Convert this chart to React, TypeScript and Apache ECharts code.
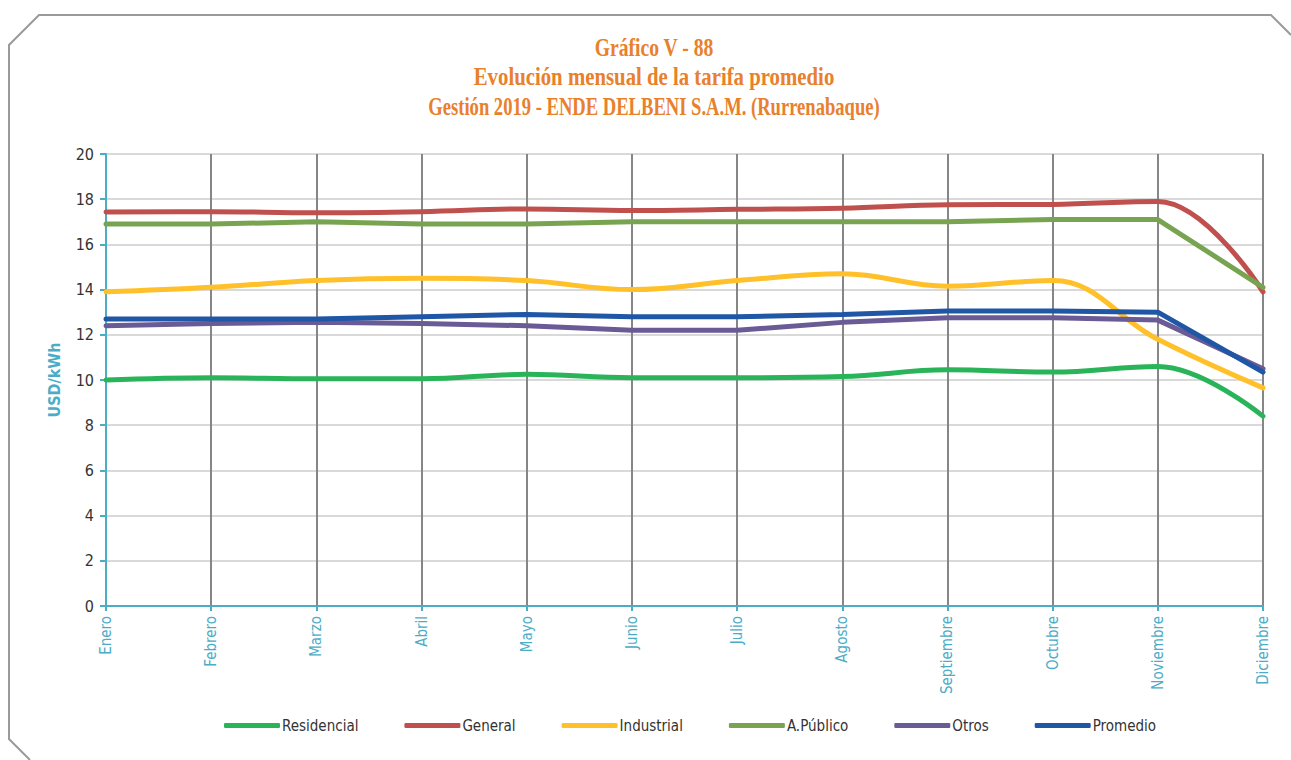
import React, { useEffect, useRef } from "react";
import * as echarts from "echarts";

const months = ["Enero", "Febrero", "Marzo", "Abril", "Mayo", "Junio", "Julio", "Agosto", "Septiembre", "Octubre", "Noviembre", "Diciembre"];
const yTicks = [0, 2, 4, 6, 8, 10, 12, 14, 16, 18, 20];
const residencial = [10.0, 10.1, 10.05, 10.05, 10.25, 10.1, 10.1, 10.15, 10.45, 10.35, 10.6, 8.4];
const general = [17.43, 17.45, 17.4, 17.45, 17.57, 17.5, 17.55, 17.6, 17.75, 17.77, 17.9, 13.9];
const industrial = [13.9, 14.1, 14.4, 14.5, 14.4, 14.0, 14.4, 14.7, 14.15, 14.4, 11.8, 9.65];
const aPublico = [16.9, 16.9, 17.0, 16.9, 16.9, 17.0, 17.0, 17.0, 17.0, 17.1, 17.1, 14.1];
const otros = [12.4, 12.5, 12.55, 12.5, 12.4, 12.2, 12.2, 12.55, 12.75, 12.75, 12.65, 10.5];
const promedio = [12.7, 12.7, 12.7, 12.8, 12.9, 12.8, 12.8, 12.9, 13.05, 13.05, 13.0, 10.35];

const titleLines = ["Gráfico V - 88", "Evolución mensual de la tarifa promedio", "Gestión 2019 - ENDE DELBENI S.A.M. (Rurrenabaque)"];
const titleScales = [0.755, 0.8, 0.715];

const NARROW = '"Liberation Sans Narrow", "DejaVu Sans Condensed", sans-serif';
const CYAN = "#4bacc6";

export default function App() {
  const ref = useRef<HTMLDivElement>(null);
  useEffect(() => {
    if (!ref.current) return;
    const chart = echarts.init(ref.current, undefined, { renderer: "svg" });
    const mk = (name: string, data: number[], color: string, smooth: boolean | number) => ({
      name,
      type: "line",
      data,
      smooth,
      symbol: "none",
      lineStyle: { color, width: 5, cap: "round" },
      itemStyle: { color },
    });
    chart.setOption({
      animation: false,
      backgroundColor: "#ffffff",
      graphic: [
        {
          type: "polyline",
          shape: { points: [[30, 760], [9, 739], [9, 45], [39, 15], [1271, 15], [1291, 35]] },
          style: { stroke: "#9a9a9a", lineWidth: 2, fill: "none" },
          silent: true,
        },
        ...titleLines.map((t, i) => ({
          type: "text",
          x: 654,
          y: 47 + i * 29.5,
          scaleX: titleScales[i],
          style: {
            text: t,
            fill: "#e8802c",
            font: 'bold 26px "Liberation Serif", serif',
            textAlign: "center",
            textVerticalAlign: "middle",
          },
        })),
      ],
      legend: {
        bottom: 22,
        left: 219,
        itemWidth: 56,
        itemHeight: 5,
        itemGap: 46,
        icon: "roundRect",
        textStyle: { fontFamily: NARROW, fontSize: 15, color: "#333", padding: [0, 0, 0, -3] },
        data: ["Residencial", "General", "Industrial", "A.Público", "Otros", "Promedio"],
      },
      grid: { left: 106, right: 28, top: 154, bottom: 154, containLabel: false },
      xAxis: {
        type: "category",
        data: months,
        boundaryGap: false,
        axisLine: { lineStyle: { color: CYAN, width: 2 } },
        axisTick: { show: true, length: 5, lineStyle: { color: CYAN, width: 2 } },
        axisLabel: { rotate: 90, margin: 10, color: CYAN, fontFamily: NARROW, fontSize: 15 },
        splitLine: { show: true, lineStyle: { color: "#868686", width: 2 } },
      },
      yAxis: {
        type: "value",
        min: yTicks[0],
        max: yTicks[yTicks.length - 1],
        interval: 2,
        name: "USD/kWh",
        nameLocation: "middle",
        nameRotate: 90,
        nameGap: 44,
        nameTextStyle: { color: CYAN, fontFamily: NARROW, fontSize: 16, fontWeight: "bold" },
        axisLine: { show: true, lineStyle: { color: CYAN, width: 2 } },
        axisTick: { show: true, length: 6, lineStyle: { color: CYAN, width: 2 } },
        axisLabel: { margin: 12, color: "#333", fontFamily: NARROW, fontSize: 16 },
        splitLine: { show: true, lineStyle: { color: "#d9d9d9", width: 2 } },
      },
      series: [
        mk("Residencial", residencial, "#29b45a", 0.4),
        mk("General", general, "#c0504d", 0.4),
        mk("Industrial", industrial, "#ffc02a", 0.4),
        mk("A.Público", aPublico, "#78a451", false),
        mk("Otros", otros, "#6a5a96", false),
        mk("Promedio", promedio, "#1f56a6", false),
      ],
    });
    return () => chart.dispose();
  }, []);
  return <div ref={ref} style={{ position: "fixed", left: 0, top: 0, width: 1291, height: 760 }} />;
}
